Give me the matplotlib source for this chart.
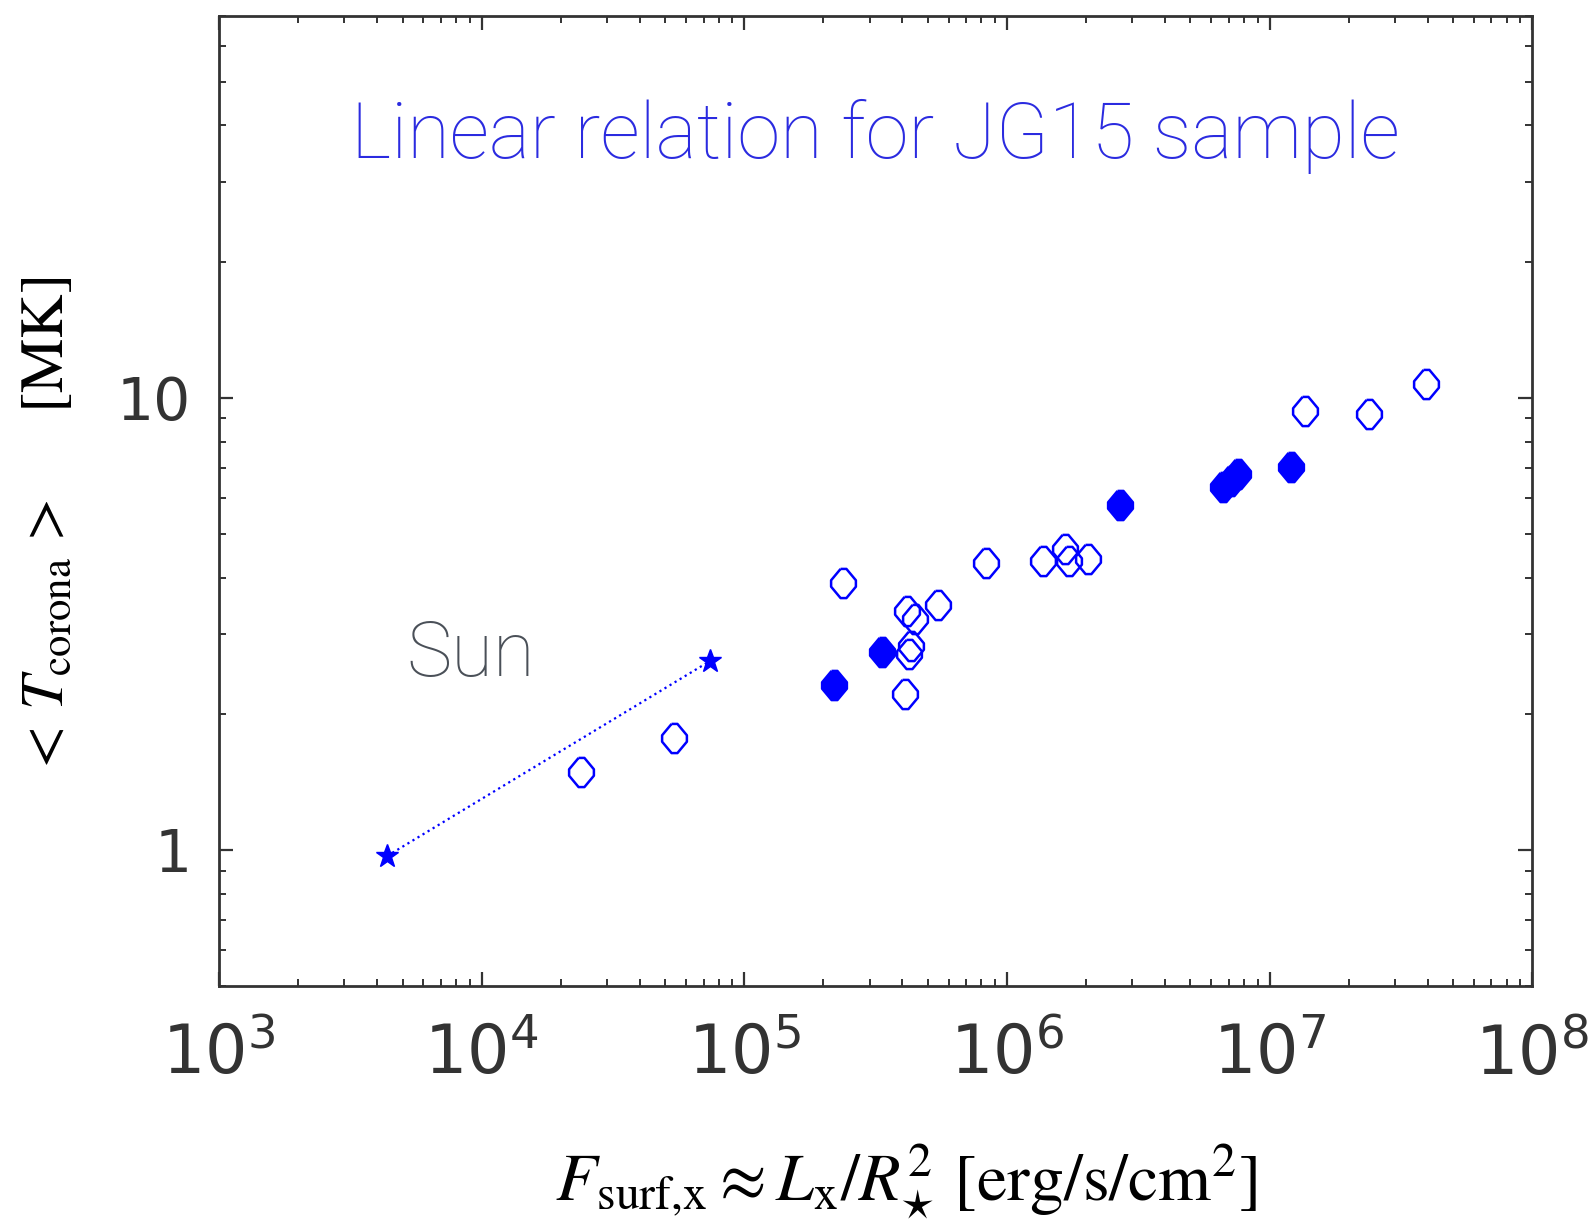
import numpy as np
import matplotlib
matplotlib.use("Agg")
import matplotlib.pyplot as plt
from matplotlib.ticker import LogLocator, FixedLocator, FixedFormatter, NullFormatter

plt.rcParams['mathtext.fontset'] = 'dejavusans'

# Sun (two states, joined by a dotted line)
sun_flux = [4.37e3, 7.43e4]
sun_temp = [0.97, 2.62]

# JG15 sample, open symbols
open_flux = [2.38e4, 5.4e4, 2.37e5, 4.09e5, 4.24e5, 4.30e5, 4.15e5, 4.47e5, 5.47e5,
             8.34e5, 1.37e6, 1.66e6, 1.73e6, 2.04e6, 1.36e7, 2.39e7, 3.93e7]
open_temp = [1.49, 1.77, 3.90, 2.21, 2.71, 2.83, 3.38, 3.24, 3.48,
             4.32, 4.36, 4.62, 4.36, 4.40, 9.35, 9.21, 10.75]

# JG15 sample, filled symbols
filled_flux = [2.20e5, 3.33e5, 2.70e6, 6.67e6, 7.13e6, 7.60e6, 1.21e7]
filled_temp = [2.31, 2.74, 5.78, 6.34, 6.54, 6.78, 7.03]

xticks = [1e3, 1e4, 1e5, 1e6, 1e7, 1e8]
xticklabels = [r'$10^{3}$', r'$10^{4}$', r'$10^{5}$', r'$10^{6}$', r'$10^{7}$', r'$10^{8}$']
yticks = [1, 10]
yticklabels = ['1', '10']

# rounded diamond marker
mk = [(-0.2, 1), (0.2, 1), (0.85, 0.22), (0.85, -0.22), (0.2, -1), (-0.2, -1),
      (-0.85, -0.22), (-0.85, 0.22), (-0.2, 1)]

fig = plt.figure(figsize=(15.91, 12.24), dpi=100)
ax = fig.add_axes([0.1377, 0.1944, 0.8253, 0.7929])

ax.plot(sun_flux, sun_temp, ls=':', color='blue', lw=1.6, marker='*', ms=17,
        markeredgewidth=1, zorder=3)
ax.plot(open_flux, open_temp, ls='none', marker=mk, ms=21, mfc='none', mec='blue',
        mew=1.8, zorder=3)
ax.plot(filled_flux, filled_temp, ls='none', marker=mk, ms=21, mfc='blue', mec='blue',
        mew=1.8, zorder=3)

ax.set_xscale('log')
ax.set_yscale('log')
ax.set_xlim(1e3, 1e8)
ax.set_ylim(0.5, 70)

ax.xaxis.set_major_locator(FixedLocator(xticks))
ax.xaxis.set_major_formatter(FixedFormatter(xticklabels))
ax.xaxis.set_minor_locator(LogLocator(base=10, subs=np.arange(2, 10), numticks=20))
ax.xaxis.set_minor_formatter(NullFormatter())
ax.yaxis.set_major_locator(FixedLocator(yticks))
ax.yaxis.set_major_formatter(FixedFormatter(yticklabels))
ax.yaxis.set_minor_locator(LogLocator(base=10, subs=np.arange(2, 10), numticks=20))
ax.yaxis.set_minor_formatter(NullFormatter())

for s in ax.spines.values():
    s.set_color('#333333')
    s.set_linewidth(2)
ax.tick_params(which='both', direction='in', top=True, right=True, color='#333333')
ax.tick_params(which='major', length=10, width=1.6)
ax.tick_params(which='minor', length=5, width=1.4)
ax.tick_params(axis='x', which='major', labelsize=48, pad=26, labelcolor='#333333')
ax.tick_params(axis='y', which='major', labelsize=42, pad=20, labelcolor='#333333')

ax.text(0.5, 0.875, 'Linear relation for JG15 sample', transform=ax.transAxes,
        ha='center', va='center', fontsize=56, color='#2b2be0',
        family='Roboto', fontweight='light')
ax.text(0.192, 0.341, 'Sun', transform=ax.transAxes, ha='center', va='center',
        fontsize=55, color='#4a5058', family='Roboto', fontweight='light')

fig.text(0.5695, 0.034, r'$F_{\rm surf{,}x} \approx L_{\rm x}/R_{\star}^{2}$ [erg/s/cm$^{2}$]',
         ha='center', va='center', fontsize=49, family='STIXGeneral', math_fontfamily='stix')
fig.text(0.0308, 0.570, r'$<\,T_{\rm corona}\,>$' + '     [MK]', rotation=90,
         ha='center', va='center', fontsize=44, family='STIXGeneral', math_fontfamily='stix')

fig.savefig('out.png', dpi=100)
